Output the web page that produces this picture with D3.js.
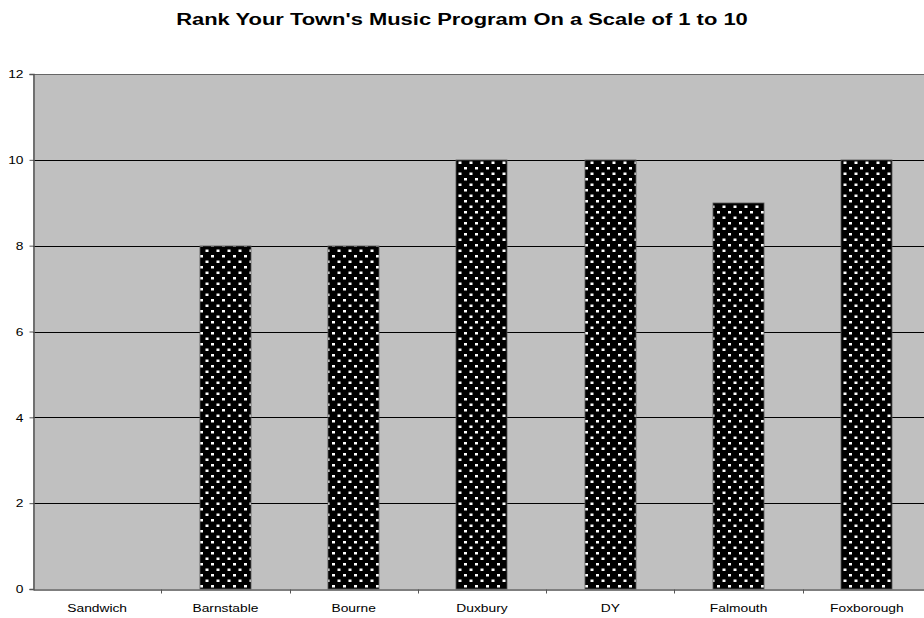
<!DOCTYPE html>
<html>
<head>
<meta charset="utf-8">
<script src="https://cdn.jsdelivr.net/npm/d3@7/dist/d3.min.js"></script>
<style>
  html, body { margin: 0; padding: 0; background: #ffffff; }
  svg { display: block; font-family: "Liberation Sans", Arial, sans-serif; }
</style>
</head>
<body>
<svg id="chart" width="924" height="618"></svg>
<script>
// Survey results: ranking of each town's music program (1 to 10)
const towns = ["Sandwich", "Barnstable", "Bourne", "Duxbury", "DY", "Falmouth", "Foxborough"];
const ratings = [0, 8, 8, 10, 10, 9, 10];
const yTicks = [0, 2, 4, 6, 8, 10, 12];
const title = "Rank Your Town's Music Program On a Scale of 1 to 10";

const svg = d3.select("#chart");
const margin = { left: 33, top: 74, right: 931, bottom: 589 };
const stretch = 1.2; // axis text is drawn slightly widened

const x = d3.scaleBand()
  .domain(towns)
  .range([margin.left, margin.right])
  .paddingInner(0.6)
  .paddingOuter(0.3);

const y = d3.scaleLinear()
  .domain([0, 12])
  .range([margin.bottom, margin.top]);

// Dotted fill for the bars
const defs = svg.append("defs");
const pat = defs.append("pattern")
  .attr("id", "dots")
  .attr("patternUnits", "userSpaceOnUse")
  .attr("width", 11)
  .attr("height", 11);
pat.append("rect").attr("width", 11).attr("height", 11).attr("fill", "#000");
pat.append("rect").attr("x", 2).attr("y", 2).attr("width", 3).attr("height", 2.5).attr("fill", "#fff");
pat.append("rect").attr("x", 7.5).attr("y", 7.5).attr("width", 3).attr("height", 2.5).attr("fill", "#fff");

// Plot background
svg.append("rect")
  .attr("x", margin.left)
  .attr("y", margin.top)
  .attr("width", margin.right - margin.left)
  .attr("height", margin.bottom - margin.top)
  .attr("fill", "#c0c0c0");

// Horizontal gridlines
svg.append("g")
  .selectAll("line")
  .data(yTicks.filter(d => d > 0 && d < 12))
  .join("line")
  .attr("x1", margin.left)
  .attr("x2", margin.right)
  .attr("y1", d => Math.round(y(d)) + 0.5)
  .attr("y2", d => Math.round(y(d)) + 0.5)
  .attr("stroke", "#000")
  .attr("stroke-width", 1);

// Top border of plot area
svg.append("line")
  .attr("x1", margin.left).attr("x2", margin.right)
  .attr("y1", margin.top + 0.5).attr("y2", margin.top + 0.5)
  .attr("stroke", "#666").attr("stroke-width", 1);

// Bars
svg.append("g")
  .selectAll("rect")
  .data(towns.map((t, i) => ({ town: t, value: ratings[i] })))
  .join("rect")
  .attr("x", d => Math.round(x(d.town)))
  .attr("y", d => Math.round(y(d.value)))
  .attr("width", Math.round(x.bandwidth()))
  .attr("height", d => Math.round(y(0)) - Math.round(y(d.value)))
  .attr("fill", "url(#dots)")
  .attr("stroke", "#555")
  .attr("stroke-width", d => d.value > 0 ? 0.8 : 0);

// Y axis
const yAxis = svg.append("g")
  .attr("transform", `translate(${margin.left + 0.5},0)`)
  .call(d3.axisLeft(y).tickValues(yTicks).tickSize(4).tickPadding(6).tickFormat(d3.format("d")));
yAxis.select(".domain").attr("stroke", "#555").attr("stroke-width", 1.5);
yAxis.selectAll(".tick line").attr("stroke", "#555");
yAxis.selectAll("text")
  .attr("font-size", 11.5).attr("fill", "#000")
  .attr("font-family", "Liberation Sans, Arial, sans-serif")
  .attr("x", -10 / stretch)
  .attr("transform", `scale(${stretch},1)`);

// X axis
const bandStep = x.step();
const xAxis = svg.append("g")
  .attr("transform", `translate(0,${margin.bottom + 0.5})`)
  .call(d3.axisBottom(x).tickSize(0).tickPadding(14));
xAxis.select(".domain").attr("stroke", "#555").attr("stroke-width", 1.5);
xAxis.selectAll("text")
  .attr("font-size", 11.5).attr("fill", "#000")
  .attr("font-family", "Liberation Sans, Arial, sans-serif")
  .attr("transform", `scale(${stretch},1)`);
// Category boundary ticks
xAxis.append("g")
  .selectAll("line")
  .data(d3.range(1, towns.length))
  .join("line")
  .attr("x1", i => Math.round(margin.left + i * bandStep) + 0.5)
  .attr("x2", i => Math.round(margin.left + i * bandStep) + 0.5)
  .attr("y1", 0)
  .attr("y2", 4)
  .attr("stroke", "#555");

// Title
svg.append("text")
  .attr("transform", `translate(462,25) scale(1.29,1)`)
  .attr("text-anchor", "middle")
  .attr("font-size", 17)
  .attr("font-weight", "bold")
  .attr("fill", "#000")
  .text(title);
</script>
</body>
</html>
